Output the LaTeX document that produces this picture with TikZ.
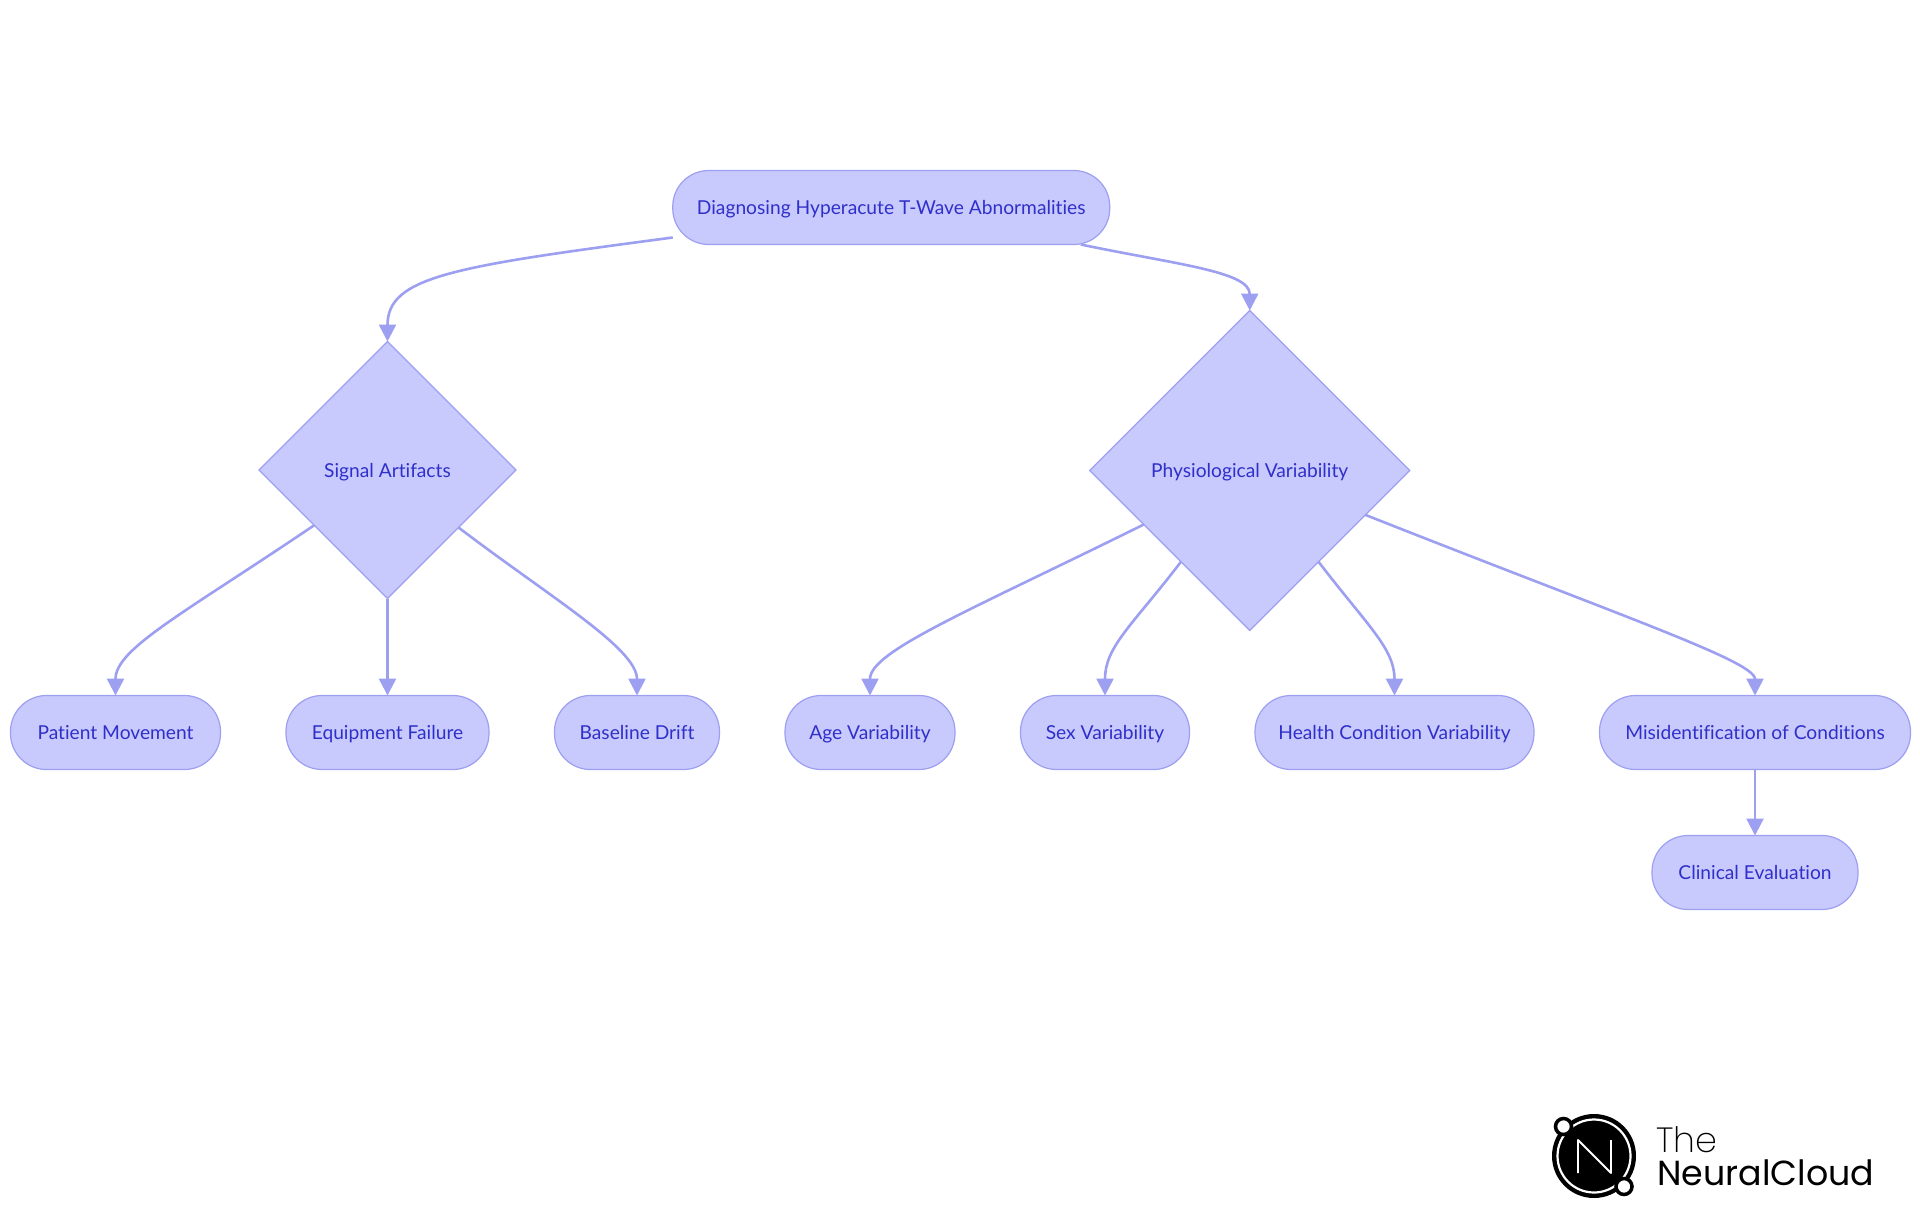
\documentclass[tikz,border=0pt]{standalone}
\usepackage{fontspec}
\setmainfont[Ligatures=NoCommon]{Lato}
\newfontfamily\logofont{Poppins}
\newfontfamily\logothin{Poppins ExtraLight}
\usepackage{tikz}
\usetikzlibrary{shapes.geometric, arrows.meta, positioning, calc}
\definecolor{nodefill}{HTML}{C8C9FD}
\definecolor{nodeline}{HTML}{9D9FF1}
\definecolor{nodetext}{HTML}{2F30C9}

\begin{document}
\begin{tikzpicture}[
    x=1pt, y=1pt,
    node distance=66pt and 65.5pt,
    pill/.style={
        rectangle,
        draw=nodeline,
        fill=nodefill,
        line width=1.2pt,
        rounded corners=36pt,
        minimum height=74pt,
        text=nodetext,
        text height=14pt,
        text depth=0pt,
        inner sep=0pt,
        outer sep=0pt,
        align=center,
        font=\fontsize{19.2}{23}\selectfont
    },
    decision/.style={
        diamond,
        draw=nodeline,
        fill=nodefill,
        line width=1.2pt,
        inner sep=0pt,
        outer sep=0pt,
        text=nodetext,
        text height=14pt,
        text depth=0pt,
        align=center,
        font=\fontsize{19.2}{23}\selectfont
    },
    arrow/.style={
        -{Triangle[length=17pt,width=17pt]},
        draw=nodeline,
        line width=2.6pt
    }
]
    \useasboundingbox (0,0) rectangle (1920,-1215);

    % Nodes
    \node [pill, minimum width=210pt] (patient) at (115.5,-732.5) {Patient Movement};
    \node [pill, minimum width=203pt, right=of patient] (equipment) {Equipment Failure};
    \node [pill, minimum width=165pt, right=of equipment] (baseline) {Baseline Drift};
    \node [pill, minimum width=170pt, right=of baseline] (age) {Age Variability};
    \node [pill, minimum width=169pt, right=of age] (sex) {Sex Variability};
    \node [pill, minimum width=279pt, right=of sex] (health) {Health Condition Variability};
    \node [pill, minimum width=311pt, right=of health] (misid) {Misidentification of Conditions};
    \node [pill, minimum width=206pt, below=of misid] (clinical) {Clinical Evaluation};

    \node [decision, minimum width=257pt, minimum height=257pt, above=97pt of equipment] (signal) {Signal Artifacts};
    \coordinate (physmid) at ($(sex.north)!0.5!(health.north)$);
    \node [decision, minimum width=320pt, minimum height=320pt, above=65pt of physmid] (physio) {Physiological Variability};

    \node [pill, minimum width=437pt, above left=66pt and 140pt of physio.north] (root) {Diagnosing Hyperacute T-Wave Abnormalities};

    % Arrows
    \draw [arrow] ([yshift=7pt]root.south west) .. controls +(-219,-29) and +(0,65) .. (signal.north);
    \draw [arrow] ([xshift=-29pt]root.south east) .. controls +(96,-20) and +(0,39) .. (physio.north);
    \draw [arrow] (signal.217) .. controls +(-130,-88) and +(0,47) .. (patient.north);
    \draw [arrow] (signal.south) -- (equipment.north);
    \draw [arrow] (signal.321.5) .. controls +(92,-70) and +(0,47) .. (baseline.north);
    \draw [arrow] (physio.207) .. controls +(-178,-88) and +(0,44) .. (age.north);
    \draw [arrow] (physio.233) .. controls +(-49,-64) and +(0,49) .. (sex.north);
    \draw [arrow] (physio.307) .. controls +(49,-64) and +(0,47) .. (health.north);
    \draw [arrow] (physio.339) .. controls +(263,-104) and +(0,34) .. (misid.north);
    \draw [arrow] (misid) -- (clinical);

    % Logo
    \fill [black] (1594,-1156) circle (42);
    \draw [white, line width=2.2pt] (1594,-1156) circle (36.5);
    \draw [white, line width=1.8pt, line join=round] (1578,-1173) -- (1578,-1140) -- (1611,-1173) -- (1611,-1140);
    \draw [black, fill=white, line width=3.5pt] (1563.5,-1126.5) circle (8);
    \draw [black, fill=white, line width=3.5pt] (1624,-1186.5) circle (8);
    \node [anchor=base west, inner sep=0pt, font=\logothin\fontsize{35}{40}\selectfont] (logothe) at (1656,-1152) {The};
    \node [anchor=base west, inner sep=0pt, font=\logofont\fontsize{34.8}{40}\selectfont] (logoname) at (1657,-1185) {NeuralCloud};
\end{tikzpicture}
\end{document}
